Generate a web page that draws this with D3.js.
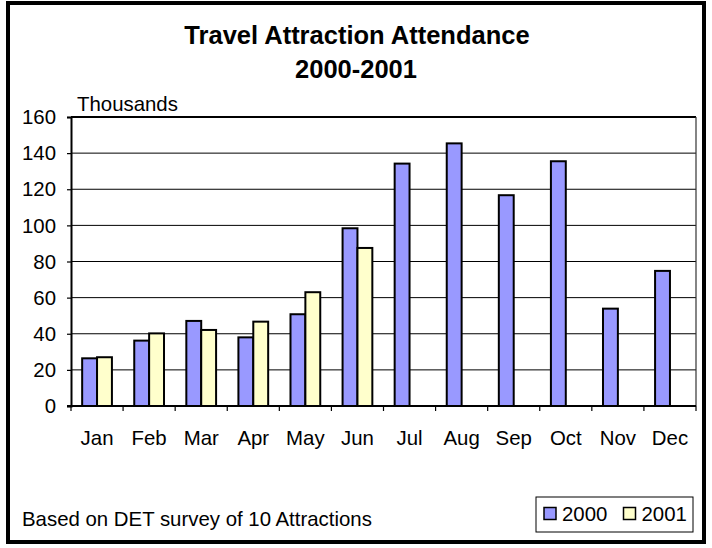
<!DOCTYPE html>
<html>
<head>
<meta charset="utf-8">
<script src="https://cdn.jsdelivr.net/npm/d3@7"></script>
<style>
  body { margin: 0; background: #fff; }
  text { font-family: "Liberation Sans", Arial, sans-serif; fill: #000; }
</style>
</head>
<body>
<div id="chart"></div>
<script>
// Chart data (thousands of visitors)
const months = ["Jan", "Feb", "Mar", "Apr", "May", "Jun", "Jul", "Aug", "Sep", "Oct", "Nov", "Dec"];
const seriesNames = ["2000", "2001"];
const values2000 = [26.4, 36.2, 47.1, 38.0, 50.8, 98.4, 134.2, 145.4, 116.7, 135.5, 53.9, 74.8];
const values2001 = [27.0, 40.2, 42.1, 46.7, 63.0, 87.5, null, null, null, null, null, null];
const yTicks = [0, 20, 40, 60, 80, 100, 120, 140, 160];
const seriesColors = ["#9999ff", "#ffffcc"];

const W = 712, H = 548;
const plot = { left: 71, right: 696, top: 117, bottom: 406 };

const svg = d3.select("#chart").append("svg")
    .attr("width", W)
    .attr("height", H);

function label(x, y, str, size, anchor, weight) {
    return svg.append("text")
        .attr("x", x)
        .attr("y", y)
        .attr("text-anchor", anchor || "start")
        .style("font-size", size + "px")
        .style("font-weight", weight || "normal")
        .text(str);
}

// Outer frame
svg.append("rect")
    .attr("x", 8).attr("y", 3)
    .attr("width", 696).attr("height", 539)
    .attr("fill", "none")
    .attr("stroke", "#000")
    .attr("stroke-width", 4);

// Scales
const x = d3.scaleBand().domain(months).range([plot.left, plot.right]);
const y = d3.scaleLinear().domain([0, 160]).range([plot.bottom, plot.top]);

// Excel style clustered bars, gap width 150%
const barW = x.bandwidth() / 3.5;
const xs = d3.scaleBand().domain(seriesNames)
    .range([barW * 0.75, barW * 2.75]);

// Gridlines (top one doubles as plot border, drawn heavier)
svg.append("g")
    .selectAll("line")
    .data(yTicks.slice(1))
    .enter().append("line")
    .attr("x1", plot.left).attr("x2", plot.right)
    .attr("y1", d => y(d)).attr("y2", d => y(d))
    .attr("stroke", "#000")
    .attr("stroke-width", d => d === 160 ? 2 : 1);

// Plot area right border
svg.append("line")
    .attr("x1", plot.right).attr("x2", plot.right)
    .attr("y1", plot.top).attr("y2", plot.bottom)
    .attr("stroke", "#333")
    .attr("stroke-width", 1.2);

// Bars
const rows = [];
months.forEach(function (m, i) {
    rows.push({ month: m, series: "2000", value: values2000[i], color: seriesColors[0] });
    if (values2001[i] != null) {
        rows.push({ month: m, series: "2001", value: values2001[i], color: seriesColors[1] });
    }
});

svg.append("g")
    .selectAll("rect")
    .data(rows)
    .enter().append("rect")
    .attr("x", d => x(d.month) + xs(d.series))
    .attr("y", d => y(d.value))
    .attr("width", xs.bandwidth())
    .attr("height", d => y(0) - y(d.value))
    .attr("fill", d => d.color)
    .attr("stroke", "#000")
    .attr("stroke-width", 2);

// Y axis
const yAxis = svg.append("g")
    .attr("transform", "translate(" + plot.left + ",0)")
    .call(d3.axisLeft(y).tickValues(yTicks).tickSize(4).tickFormat(""));
yAxis.select(".domain").attr("stroke-width", 2);
yAxis.selectAll(".tick line").attr("stroke-width", 1.2);

yTicks.forEach(function (t) {
    label(56, y(t) + 7.2, String(t), 20.4, "end");
});

// X axis with ticks on the category boundaries
const xAxis = svg.append("g")
    .attr("transform", "translate(0," + plot.bottom + ")");
xAxis.append("line")
    .attr("x1", plot.left - 4).attr("x2", plot.right)
    .attr("stroke", "#000")
    .attr("stroke-width", 2);
xAxis.selectAll(".tick")
    .data(months.concat(["end"]))
    .enter().append("line")
    .attr("x1", (d, i) => plot.left + i * x.step())
    .attr("x2", (d, i) => plot.left + i * x.step())
    .attr("y1", 0).attr("y2", 5)
    .attr("stroke", "#000")
    .attr("stroke-width", 1.2);

months.forEach(function (m) {
    label(x(m) + x.bandwidth() / 2, 444.5, m, 20.4, "middle");
});

// Titles and notes
label(357, 44, "Travel Attraction Attendance", 25.5, "middle", "bold");
label(356, 77.5, "2000-2001", 25.5, "middle", "bold");
label(77, 111, "Thousands", 20.4, "start");
label(22, 526, "Based on DET survey of 10 Attractions", 20.4, "start");

// Legend
const legend = svg.append("g");
legend.append("rect")
    .attr("x", 536).attr("y", 497)
    .attr("width", 157).attr("height", 35)
    .attr("fill", "#fff")
    .attr("stroke", "#000")
    .attr("stroke-width", 1);

const legendX = [544, 623.5];
seriesNames.forEach(function (s, i) {
    legend.append("rect")
        .attr("x", legendX[i]).attr("y", 507.5)
        .attr("width", 12).attr("height", 12)
        .attr("fill", seriesColors[i])
        .attr("stroke", "#000")
        .attr("stroke-width", 1.5);
    label(legendX[i] + 18, 521, s, 20.4, "start");
});
</script>
</body>
</html>
